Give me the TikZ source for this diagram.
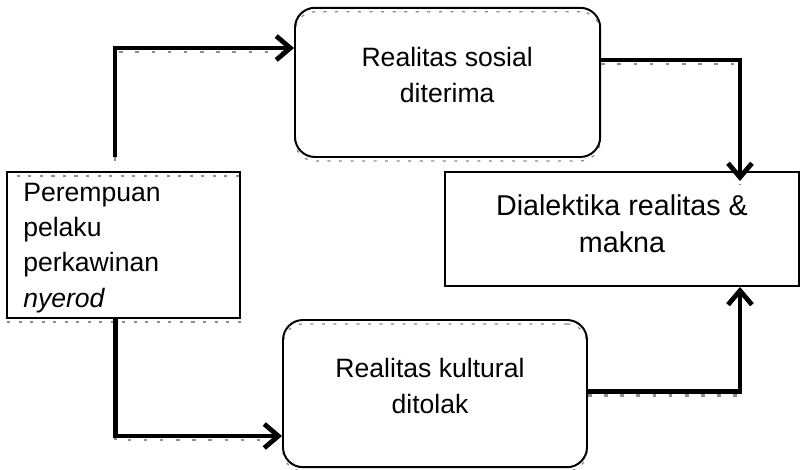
\documentclass[tikz,border=0pt]{standalone}
\usepackage{fontspec}
\setmainfont{Liberation Sans}
\usepackage{tikz}
\usetikzlibrary{positioning}
\usetikzlibrary{arrows.meta}
\definecolor{bayang}{RGB}{140,140,140}
\tikzset{kotak/.style={draw, line width=1.4pt, inner sep=0pt}}
\tikzset{bulat/.style={kotak, rounded corners=0.5cm}}
\tikzset{bayangkotak/.style={preaction={draw=bayang, line width=0.9pt, dash pattern=on 2.2pt off 6pt, transform canvas={yshift=-2.8pt}}}}
\tikzset{panah/.style={line width=3.4pt, -{Straight Barb[length=10pt,width=17pt,line width=3.4pt]},
  preaction={draw=bayang, -, line width=2pt, dash pattern=on 2.5pt off 9pt, transform canvas={yshift=-2.8pt}}}}
\tikzset{teks/.style={align=center, inner sep=0pt, font=\fontsize{18.9}{25}\selectfont}}

\begin{document}
\begin{tikzpicture}
\useasboundingbox (0,0) rectangle (20.025,-11.75);
% kotak
\node[kotak, bayangkotak, minimum width=5.83cm, minimum height=3.65cm] (perempuan) at (3.09,-6.125) {};
\node[bulat, bayangkotak, minimum width=7.63cm, minimum height=3.73cm] (sosial) at (11.19,-2.06) {};
\node[bulat, bayangkotak, minimum width=7.6cm, minimum height=3.68cm] (kultural) at (10.875,-9.84) {};
\node[kotak, minimum width=8.85cm, minimum height=2.85cm, teks, font=\fontsize{20.4}{26.5}\selectfont] (dialektika) at (15.55,-5.725) {Dialektika realitas \&\\makna\strut};
% teks
\node[teks, align=left, anchor=west] (perempuantxt) at (0.575,-6.2) {Perempuan\\pelaku\\perkawinan\\\textit{nyerod}};
\node[teks] (sosialtxt) at (11.18,-1.875) {Realitas sosial\\diterima};
\node[teks] (kulturaltxt) at (10.75,-9.65) {Realitas kultural\\ditolak};
% panah
\coordinate (kiriatas) at (2.875,-3.925);
\draw[panah] (kiriatas) |- ([yshift=0.86cm]sosial.west);
\draw[panah] ([xshift=-0.21cm]perempuan.south) |- ([yshift=-1.06cm]kultural.west);
\draw[panah, shorten >=-0.25cm] ([yshift=0.56cm]sosial.east) -| ([xshift=2.95cm]dialektika.north);
\draw[panah] ([yshift=0.06cm]kultural.east) -| ([xshift=2.95cm]dialektika.south);
\end{tikzpicture}
\end{document}
